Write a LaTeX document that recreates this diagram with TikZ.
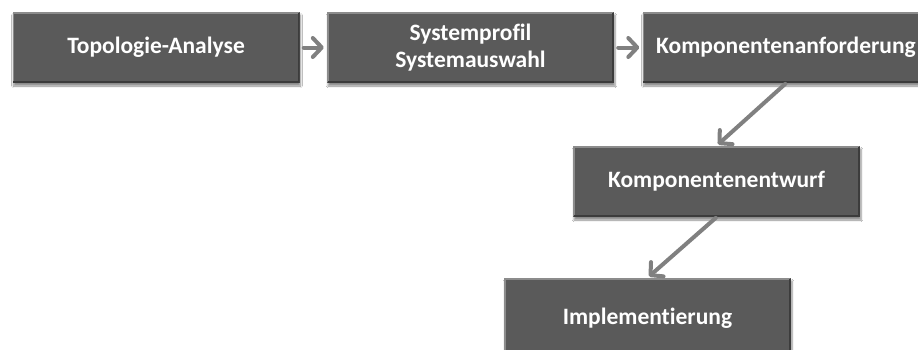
\documentclass[tikz,border=0pt]{standalone}
\usepackage{fontspec}
\setmainfont{Carlito}[Ligatures=NoCommon]
\usetikzlibrary{arrows.meta,shadows.blur}
\definecolor{boxfill}{HTML}{5A5A5A}
\definecolor{boxlight}{HTML}{8C8C8C}
\definecolor{boxdark}{HTML}{3C3C3C}
\definecolor{flowgray}{HTML}{808080}
\tikzset{
  stepbox/.style={
    rectangle, minimum width=287pt, minimum height=71pt, inner sep=0pt,
    fill=boxfill, text=white, align=center,
    font=\fontsize{23.5}{27}\selectfont\bfseries,
    blur shadow={shadow xshift=1pt, shadow yshift=-3pt, shadow blur steps=6, shadow opacity=45},
    path picture={
      \draw[boxlight, line width=1.6pt]
        ([xshift=0.8pt,yshift=0.8pt]path picture bounding box.south west)
        -- ([xshift=0.8pt,yshift=-0.8pt]path picture bounding box.north west)
        -- ([xshift=-0.8pt,yshift=-0.8pt]path picture bounding box.north east);
      \draw[boxdark, line width=1.6pt]
        ([xshift=-0.8pt,yshift=-0.8pt]path picture bounding box.north east)
        -- ([xshift=-0.8pt,yshift=0.8pt]path picture bounding box.south east)
        -- ([xshift=0.8pt,yshift=0.8pt]path picture bounding box.south west);
    }
  },
  flow/.style={
    draw=flowgray, line width=4pt, line cap=round,
    -{Straight Barb[length=9pt,width=19pt,line cap=round,line join=round]}
  }
}
\begin{document}
\begin{tikzpicture}[x=1pt, y=-1pt]
  \useasboundingbox (0,0) rectangle (918,349);
  \clip (0,0) rectangle (918,349);
  \fill[white] (0,0) rectangle (918,349);

  % process steps
  \node[stepbox] (b1) at (156,47.5)   {Topologie-Analyse};
  \node[stepbox] (b2) at (470.5,47.5) {Systemprofil\\Systemauswahl};
  \node[stepbox] (b3) at (786,47.5)   {Komponentenanforderung};
  \node[stepbox] (b4) at (716.5,181.5){Komponentenentwurf};
  \node[stepbox, minimum height=80pt] (b5) at (647.5,318){Implementierung};

  % flow between the steps
  \draw[flow, shorten <=4pt, shorten >=3pt] (b1.east) -- (b2.west);
  \draw[flow, shorten <=4pt, shorten >=3pt] (b2.east) -- (b3.west);
  \draw[flow, shorten <=1pt, shorten >=2pt] (b3.south) -- (b4.north);
  \draw[flow, shorten <=1pt, shorten >=2pt] (b4.south) -- (b5.north);
\end{tikzpicture}
\end{document}
